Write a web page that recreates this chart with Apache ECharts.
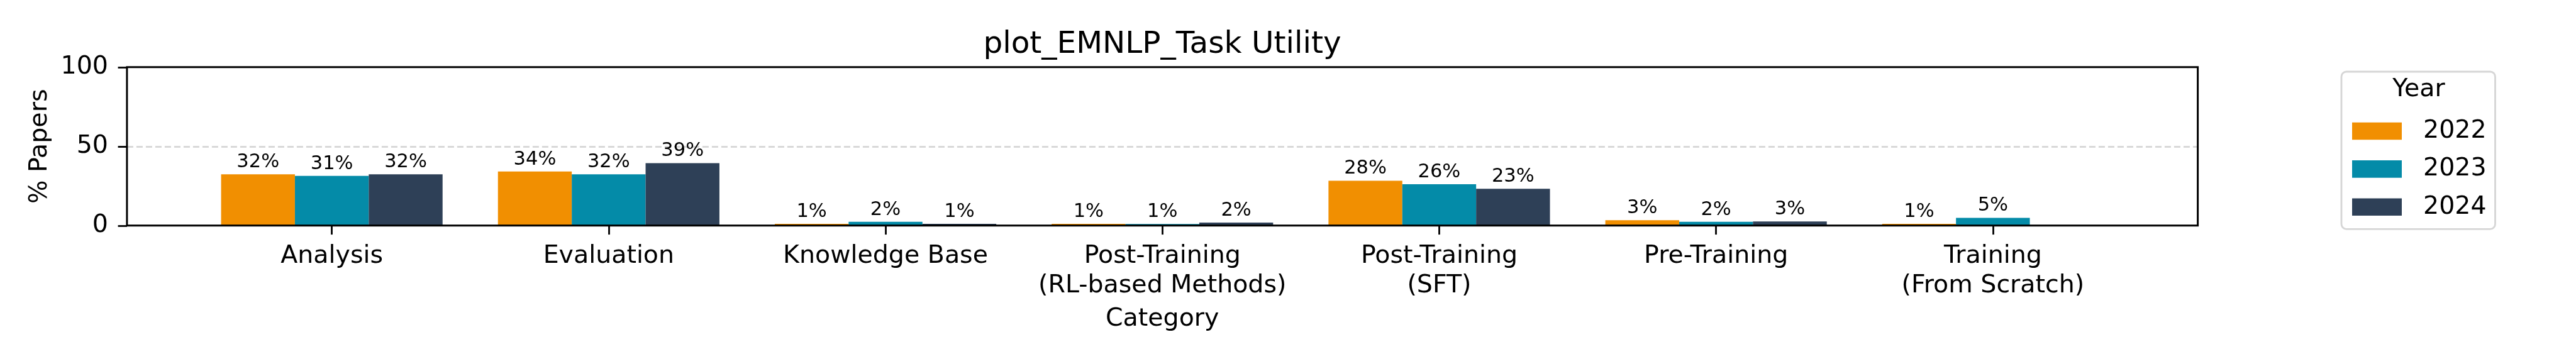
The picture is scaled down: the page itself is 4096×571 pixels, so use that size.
<!DOCTYPE html>
<html>
<head>
<meta charset="utf-8">
<script src="https://cdn.jsdelivr.net/npm/echarts@6/dist/echarts.min.js"></script>
<style>
html,body{margin:0;padding:0;background:#fff;}
#chart{width:4096px;height:571px;}
</style>
</head>
<body>
<div id="chart"></div>
<script>
const categories = ['Analysis', 'Evaluation', 'Knowledge Base', 'Post-Training\n(RL-based Methods)', 'Post-Training\n(SFT)', 'Pre-Training', 'Training\n(From Scratch)'];
const years = ['2022', '2023', '2024'];
const values2022 = [32.4, 34.1, 1.1, 1.1, 28.3, 3.4, 1.1];
const values2023 = [31.4, 32.4, 2.4, 1.0, 26.1, 2.4, 4.9];
const values2024 = [32.4, 39.4, 1.1, 1.9, 23.2, 2.6, null];
const yTicks = [0, 50, 100];
const colors = ['#F18F01', '#048BA8', '#2E4057'];

const FONT = 'DejaVu Sans';
const seriesValues = [values2022, values2023, values2024];
const catIdx = categories.map((c, i) => i);

const chart = echarts.init(document.getElementById('chart'), null, {renderer: 'canvas'});

const series = years.map((y, k) => ({
  name: y,
  type: 'bar',
  data: seriesValues[k].map((v, i) => [i, v]),
  barGap: '0%',
  barCategoryGap: '20%',
  itemStyle: {color: colors[k]},
  z: 2,
  label: {
    show: true,
    position: 'top',
    distance: 4,
    formatter: p => (p.value[1] == null ? '' : Math.round(p.value[1]) + '%'),
    fontFamily: FONT,
    fontSize: 30.5,
    lineHeight: 30,
    color: '#000'
  },
  markLine: k === 0 ? {
    silent: true,
    symbol: ['none', 'none'],
    label: {show: false},
    z: 1,
    lineStyle: {color: '#d9d9d9', width: 3, type: [10, 5]},
    data: [{yAxis: yTicks[1]}]
  } : undefined
}));

const option = {
  animation: false,
  backgroundColor: '#fff',
  title: [
    {
      text: 'plot_EMNLP_Task Utility',
      left: 1848, top: 43, padding: 0,
      textAlign: 'center',
      textStyle: {fontFamily: FONT, fontSize: 48.5, fontWeight: 'normal', color: '#000', lineHeight: 56}
    },
    {
      text: 'Year',
      left: 3846, top: 119, padding: 0,
      textAlign: 'center',
      z: 10,
      textStyle: {fontFamily: FONT, fontSize: 39.5, fontWeight: 'normal', color: '#000', lineHeight: 47}
    }
  ],
  legend: {
    data: years,
    orient: 'vertical',
    left: 3723, top: 114,
    padding: [74.5, 14, 15, 17],
    itemWidth: 79, itemHeight: 27.6, itemGap: 20.4,
    icon: 'rect',
    backgroundColor: 'rgba(255,255,255,0.8)',
    borderColor: '#d6d6d6', borderWidth: 2.85, borderRadius: 8,
    textStyle: {fontFamily: FONT, fontSize: 39.5, color: '#000', padding: [0, 0, 0, 29]},
    selectedMode: false
  },
  grid: {
    left: 201.9, right: 601.4, top: 106.8, bottom: 212.2,
    show: true, borderColor: '#000', borderWidth: 3,
    backgroundColor: 'transparent',
    z: 5,
    containLabel: false,
    outerBoundsMode: 'none'
  },
  xAxis: {
    type: 'value',
    min: -0.74, max: 6.74,
    name: 'Category',
    nameLocation: 'middle',
    nameGap: 125,
    nameMoveOverlap: false,
    nameTextStyle: {fontFamily: FONT, fontSize: 39.5, color: '#000', lineHeight: 47.4},
    axisLine: {show: false, onZero: false},
    splitLine: {show: false},
    axisTick: {show: true, customValues: catIdx, length: 14.3, lineStyle: {color: '#000', width: 2.8}},
    axisLabel: {
      customValues: catIdx,
      formatter: v => categories[Math.round(v)] || '',
      fontFamily: FONT, fontSize: 39.5, color: '#000', lineHeight: 47.5,
      margin: 25, hideOverlap: false, showMinLabel: true, showMaxLabel: true
    }
  },
  yAxis: {
    type: 'value',
    position: 'left',
    min: yTicks[0], max: yTicks[2], interval: yTicks[1],
    name: '% Papers',
    nameLocation: 'middle',
    nameGap: 114,
    nameRotate: 90,
    nameMoveOverlap: false,
    nameTextStyle: {fontFamily: FONT, fontSize: 39.5, color: '#000', lineHeight: 47.4},
    axisLine: {show: false, onZero: false},
    splitLine: {show: false},
    axisTick: {show: true, length: 14.3, lineStyle: {color: '#000', width: 2.8}},
    axisLabel: {fontFamily: FONT, fontSize: 39.5, color: '#000', margin: 30}
  },
  series: series
};
chart.setOption(option);
</script>
</body>
</html>
